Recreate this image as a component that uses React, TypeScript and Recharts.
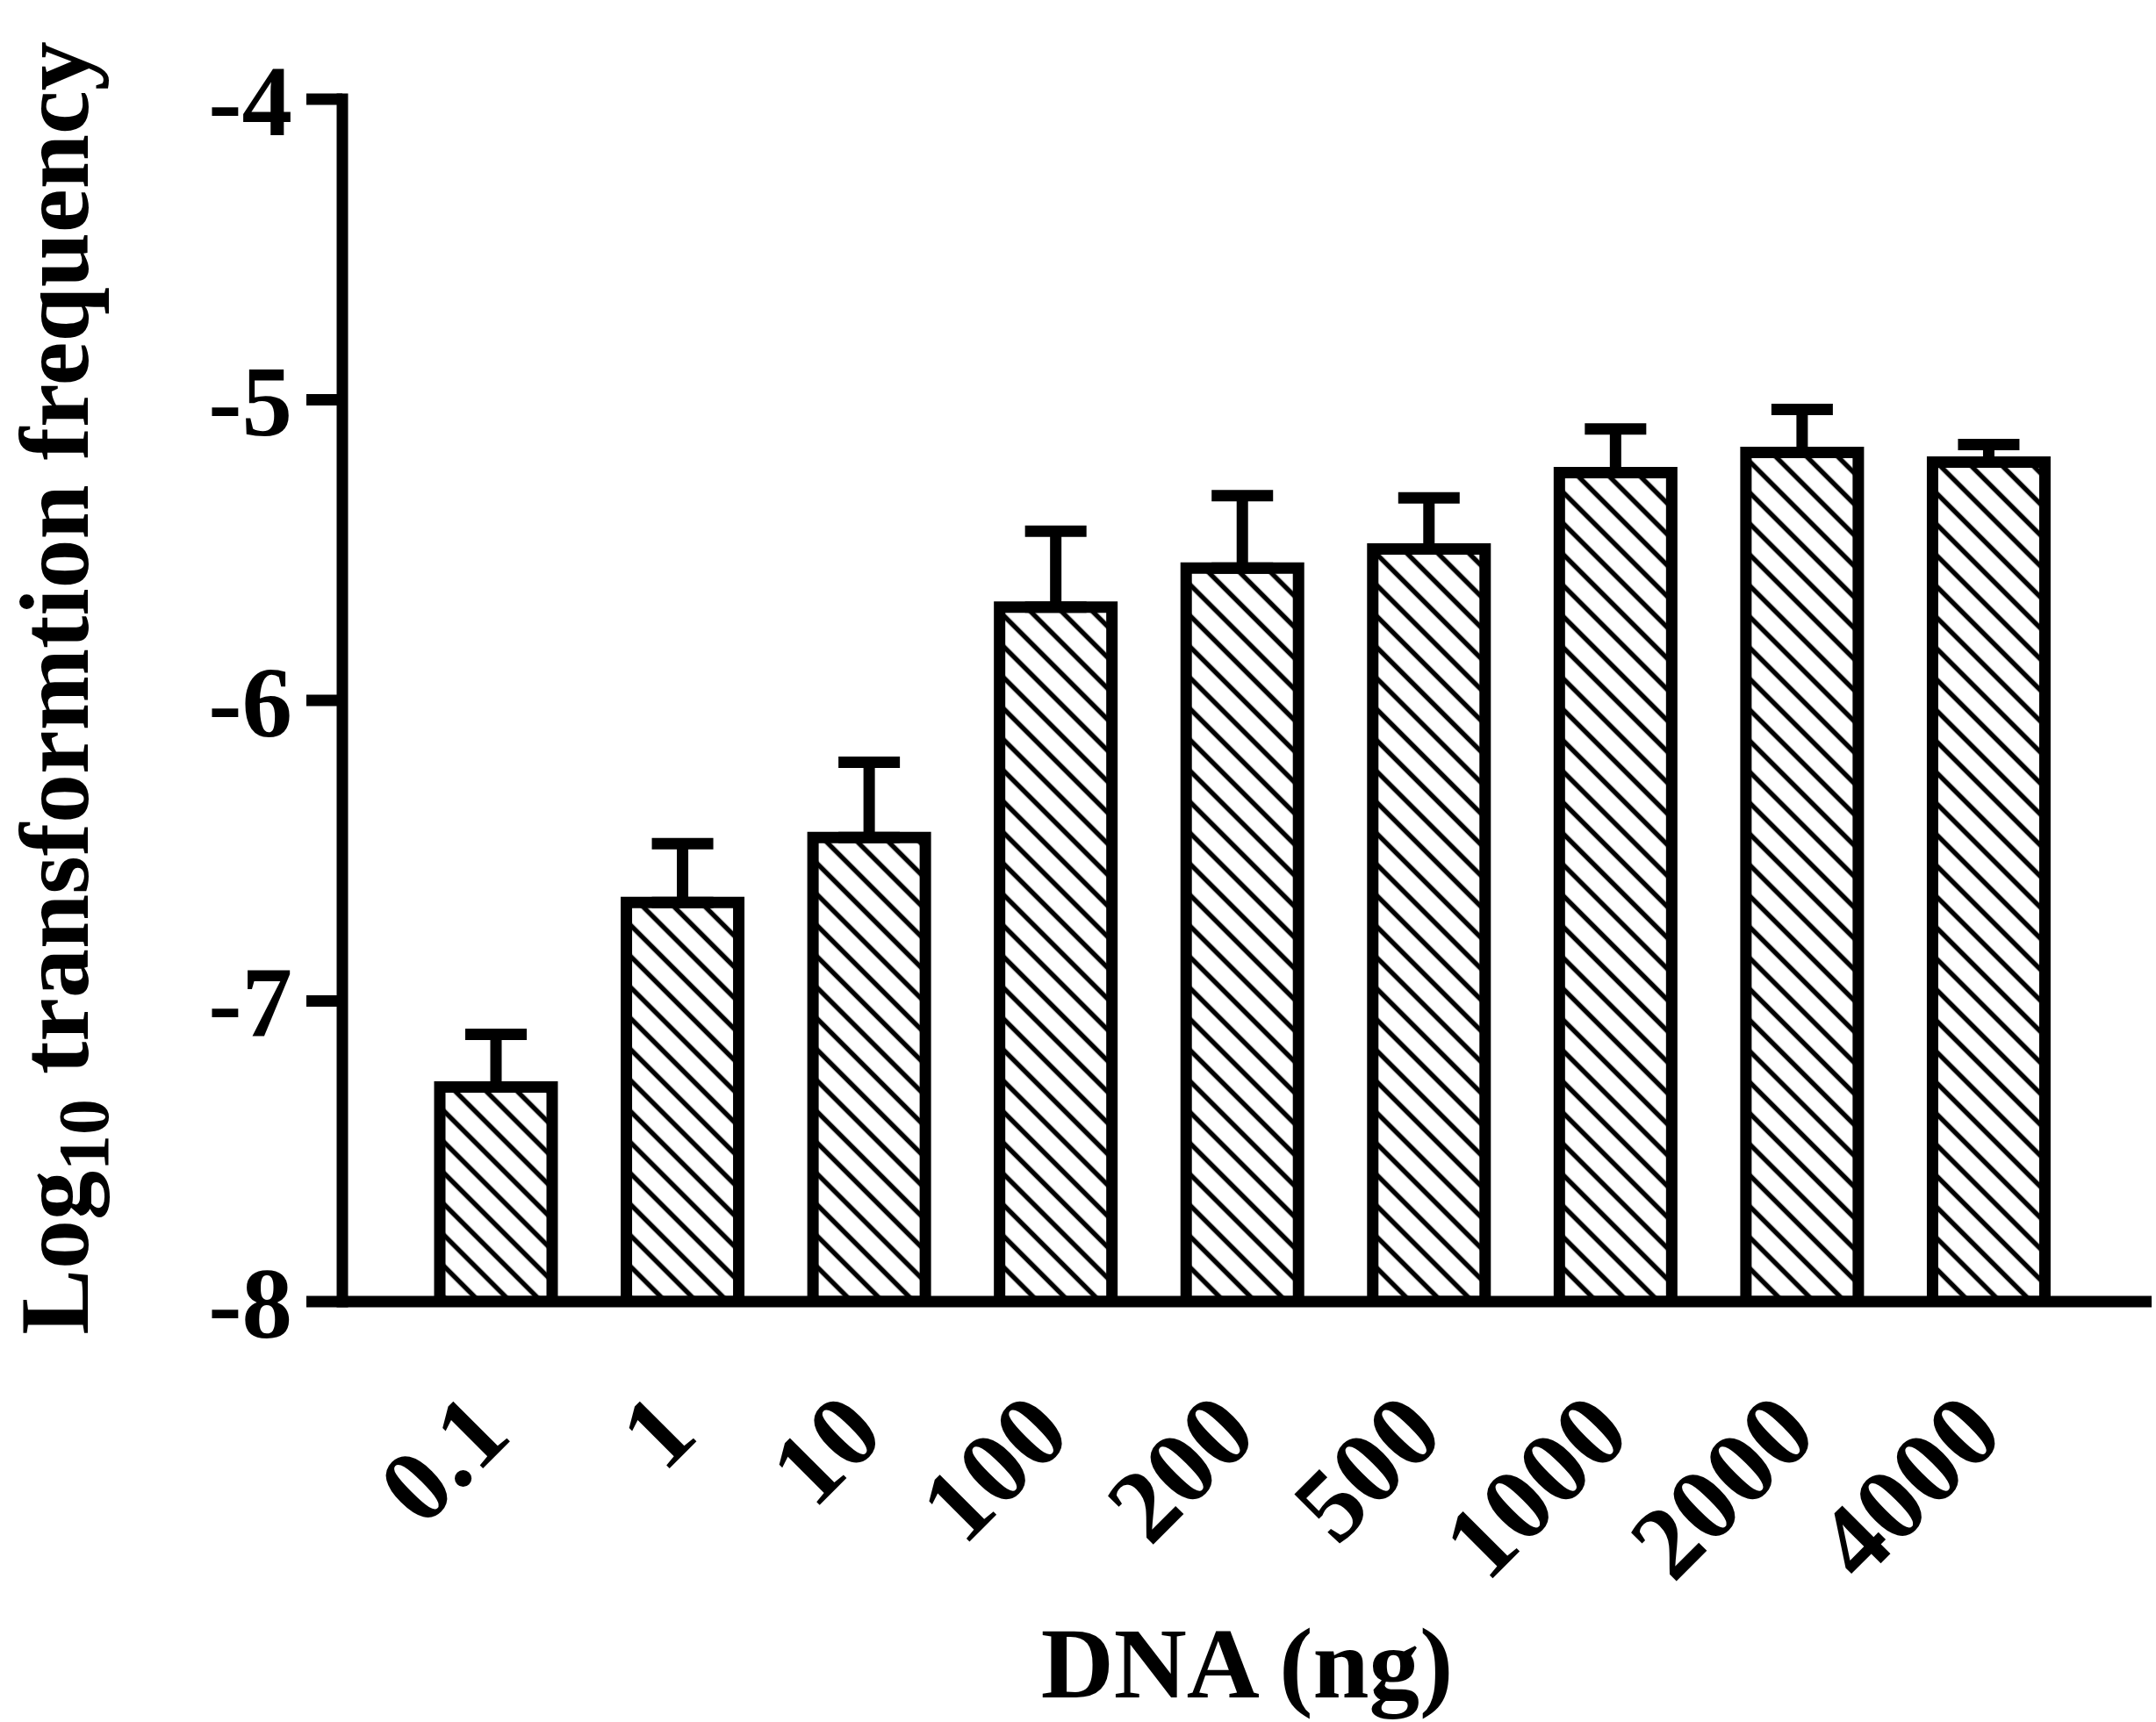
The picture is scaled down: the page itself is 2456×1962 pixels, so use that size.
import React from "react";
import { BarChart, Bar, XAxis, YAxis, ErrorBar } from "recharts";

// DNA amount (ng) on the x axis
const doses = ["0.1", "1", "10", "100", "200", "500", "1000", "2000", "4000"];
// mean log10 transformation frequency
const means = [-7.286, -6.672, -6.456, -5.69, -5.56, -5.496, -5.242, -5.175, -5.207];
// upper error (SD), drawn only above the bar
const errors = [0.175, 0.195, 0.25, 0.253, 0.241, 0.17, 0.145, 0.143, 0.058];
const yTicks = [-8, -7, -6, -5, -4];

const FLOOR = -8;
const FONT = "Liberation Serif, Times New Roman, Times, serif";

const rows = doses.map((dose, i) => ({
  dose,
  range: [FLOOR, means[i]],
  err: [0, errors[i]],
}));

function DoseTick(props: any) {
  const { x, y, payload } = props;
  const tx = x + 20;
  const ty = y + 155;
  return (
    <text
      x={tx}
      y={ty}
      transform={`rotate(-45, ${tx}, ${ty})`}
      textAnchor="end"
      style={{ fontFamily: FONT, fontWeight: 700 }}
      fontSize={118}
      fill="#000"
    >
      {payload.value}
    </text>
  );
}

function YTitle(props: any) {
  const vb = props.viewBox;
  const cy = vb.y + vb.height / 2 - 14;
  return (
    <text
      transform={`translate(100, ${cy}) rotate(-90)`}
      textAnchor="middle"
      style={{ fontFamily: FONT, fontWeight: 700 }}
      fontSize={112}
      fill="#000"
    >
      Log
      <tspan fontSize={82} dy={23}>10</tspan>
      <tspan dy={-23}>{"\u00a0transformtion frequency"}</tspan>
    </text>
  );
}

function XTitle(props: any) {
  const vb = props.viewBox;
  return (
    <text
      x={vb.x + vb.width / 2}
      y={1934}
      textAnchor="middle"
      style={{ fontFamily: FONT, fontWeight: 700 }}
      fontSize={115}
      fill="#000"
    >
      DNA (ng)
    </text>
  );
}

export default function App() {
  return (
    <div style={{ position: "absolute", left: 0, top: 0, background: "#fff", fontFamily: FONT }}>
      <BarChart
        width={2456}
        height={1962}
        data={rows}
        margin={{ top: 113, right: 5, bottom: 0, left: 0 }}
      >
        <defs>
          <pattern
            id="hatch"
            patternUnits="userSpaceOnUse"
            width={25}
            height={25}
            patternTransform="rotate(45)"
          >
            <rect width={25} height={25} fill="#fff" />
            <line x1={0} y1={12.5} x2={25} y2={12.5} stroke="#000" strokeWidth={5.5} />
          </pattern>
        </defs>
        <XAxis
          dataKey="dose"
          height={479}
          padding={{ left: 69, right: 79 }}
          axisLine={{ stroke: "#000", strokeWidth: 13 }}
          tickLine={false}
          tickSize={0}
          tickMargin={0}
          tick={<DoseTick />}
          interval={0}
          label={<XTitle />}
        />
        <YAxis
          type="number"
          domain={[-8, -4]}
          ticks={yTicks}
          width={390}
          allowDataOverflow
          axisLine={{ stroke: "#000", strokeWidth: 13, strokeLinecap: "square" }}
          tickLine={{ stroke: "#000", strokeWidth: 13 }}
          tickSize={41}
          tickMargin={16}
          tick={{ style: { fontFamily: FONT, fontWeight: 700 }, fontSize: 115, fill: "#000" }}
          label={<YTitle />}
        />
        <Bar
          dataKey="range"
          barSize={128}
          fill="url(#hatch)"
          stroke="#000"
          strokeWidth={13}
          isAnimationActive={false}
        >
          <ErrorBar
            dataKey="err"
            direction="y"
            width={35}
            stroke="#000"
            strokeWidth={13}
            isAnimationActive={false}
          />
        </Bar>
      </BarChart>
    </div>
  );
}
